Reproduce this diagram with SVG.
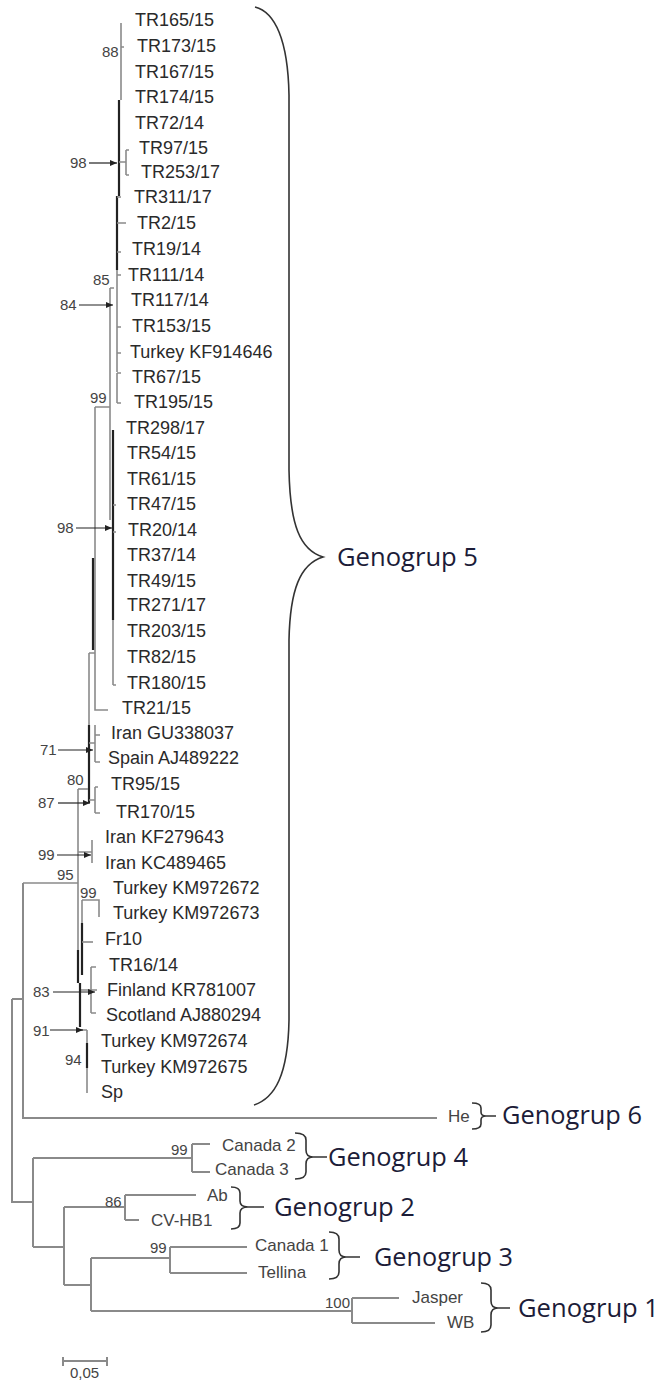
<svg xmlns="http://www.w3.org/2000/svg" width="662" height="1385" viewBox="0 0 662 1385">
<style>
.bg{fill:#fff}
.lab{font-family:"Liberation Sans",Arial,sans-serif;font-size:18px;fill:#2a2a2a}
.lab2{font-family:"Liberation Sans",Arial,sans-serif;font-size:17px;fill:#444}
.bs{font-family:"Liberation Sans",Arial,sans-serif;font-size:15px;fill:#444}
.geno{font-family:"Open Sans","Liberation Sans",sans-serif;font-size:25px;fill:#1c1c38}
.g{stroke:#8a8a8a;stroke-width:1.6;fill:none}
.k{stroke:#222;stroke-width:2.2;fill:none}
.t{stroke:#8a8a8a;stroke-width:2;fill:none}
.br{stroke:#333;stroke-width:1.6;fill:none}
.ar{stroke:#222;stroke-width:1.2;fill:none;marker-end:url(#ah)}
</style>
<defs>
<marker id="ah" markerWidth="8" markerHeight="8" refX="7" refY="4" orient="auto" markerUnits="userSpaceOnUse">
<path d="M0,1 L7,4 L0,7 Z" fill="#222"/>
</marker>
</defs>
<rect class="bg" x="0" y="0" width="662" height="1385"/>

<g id="connectors">
  <!-- Genogroup 5 subtree -->
  <path class="g" d="M121,23 V100 M121,47 H124"/>
  <path class="k" d="M119,100 V196"/>
  <path class="g" d="M119,162 H126 M126,150 V175 M126,150 H129 M126,175 H129"/>
  <path class="k" d="M117,196 V270"/>
  <path class="g" d="M117,197 H121 M117,223 H126 M117,252 H121"/>
  <path class="g" d="M117,270 V372 M117,275 H121 M117,327 H121 M117,353 H121"/>
  <path class="g" d="M110,288 H114 M110,288 V520"/>
  <path class="g" d="M117,373 V403 M117,373 H121 M117,403 H121"/>
  <path class="g" d="M95,407 H110 M95,407 V653"/>
  <path class="k" d="M113,430 V620"/>
  <path class="g" d="M113,620 V685 M113,505 H116 M113,532 H116 M113,685 H116"/>
  <path class="k" d="M93,558 V650"/>
  <path class="g" d="M89,653 H95 M95,653 V710 H108"/>
  <path class="g" d="M89,653 V725"/>
  <path class="k" d="M89,725 V803"/>
  <path class="g" d="M89,743 H95 M95,725 V762 M95,735 H100 M95,762 H100"/>
  <path class="g" d="M78,789 H88"/>
  <path class="g" d="M89,800 H95 M95,787 V813 M95,787 H98 M95,813 H100"/>
  <path class="g" d="M78,789 V950"/>
  <path class="g" d="M78,852 H92 M92,840 V863"/>
  <path class="g" d="M23,883 H78"/>
  <path class="g" d="M82,900 H99 V917 M82,900 V923"/>
  <path class="k" d="M82,923 V975"/>
  <path class="g" d="M82,942 H93"/>
  <path class="k" d="M78,950 V983"/>
  <path class="g" d="M80,990 H91 M91,967 V1013 M91,967 H96 M91,1013 H96 M91,990 H97"/>
  <path class="k" d="M80,983 V1027"/>
  <path class="g" d="M80,1030 H87 M87,1030 V1093"/>
  <path class="k" d="M87,1043 V1068"/>
  <!-- arrows to nodes -->
  <path class="ar" d="M89,163 H117"/>
  <path class="ar" d="M79,305 H113"/>
  <path class="ar" d="M76,528 H112"/>
  <path class="ar" d="M58,750 H93"/>
  <path class="ar" d="M58,803 H90"/>
  <path class="ar" d="M57,855 H91"/>
  <path class="ar" d="M53,992 H95"/>
  <path class="ar" d="M50,1030 H83"/>
  <!-- root and outgroups -->
  <path class="t" d="M23,883 V1118 H437"/>
  <path class="t" d="M12,999 H23 M12,999 V1202 H33"/>
  <path class="t" d="M33,1158 V1247 M33,1158 H192 M192,1144 V1172 M192,1144 H210 M192,1172 H210"/>
  <path class="t" d="M33,1247 H64 M64,1207 V1285 M64,1207 H125 M125,1195 V1220 M125,1195 H196 M125,1220 H139"/>
  <path class="t" d="M64,1285 H91 M91,1258 V1311 M91,1258 H170 M170,1247 V1273 M170,1247 H247 M170,1273 H247"/>
  <path class="t" d="M91,1311 H352 M352,1298 V1323 M352,1298 H399 M352,1323 H435"/>
  <!-- scale bar -->
  <path class="t" d="M63,1361 H107 M63,1357 V1366 M107,1357 V1366"/>
</g>

<g id="braces">
  <path class="br" d="M255,7 C275,12 288,40 289,95 L289,470 C290,525 300,550 323,557 C300,564 290,590 289,640 L289,1020 C288,1075 275,1098 254,1105"/>
  <path class="br" d="M472,1103 Q481,1103 481,1108 V1112 Q481,1116 486,1116 Q481,1116 481,1120 V1124 Q481,1129 472,1129 M486,1116 H496"/>
  <path class="br" d="M295,1133 Q306,1133 306,1140 V1150 Q306,1157 313,1157 Q306,1157 306,1164 V1172 Q306,1179 295,1179 M313,1157 H327"/>
  <path class="br" d="M231,1187 Q240,1187 240,1193 V1201 Q240,1207 248,1207 Q240,1207 240,1213 V1223 Q240,1229 231,1229 M248,1207 H264"/>
  <path class="br" d="M329,1232 Q339,1232 339,1239 V1250 Q339,1257 346,1257 Q339,1257 339,1264 V1272 Q339,1279 329,1279 M346,1257 H360"/>
  <path class="br" d="M481,1283 Q491,1283 491,1290 V1301 Q491,1308 498,1308 Q491,1308 491,1315 V1325 Q491,1332 481,1332 M498,1308 H510"/>
</g>

<g id="bootstrap">
  <text class="bs" x="102" y="57">88</text>
  <text class="bs" x="70" y="168">98</text>
  <text class="bs" x="93" y="285">85</text>
  <text class="bs" x="60" y="310">84</text>
  <text class="bs" x="90" y="403">99</text>
  <text class="bs" x="57" y="533">98</text>
  <text class="bs" x="40" y="755">71</text>
  <text class="bs" x="67" y="785">80</text>
  <text class="bs" x="38" y="808">87</text>
  <text class="bs" x="38" y="860">99</text>
  <text class="bs" x="57" y="880">95</text>
  <text class="bs" x="80" y="898">99</text>
  <text class="bs" x="33" y="997">83</text>
  <text class="bs" x="33" y="1036">91</text>
  <text class="bs" x="65" y="1065">94</text>
  <text class="bs" x="171" y="1155">99</text>
  <text class="bs" x="105" y="1207">86</text>
  <text class="bs" x="150" y="1253">99</text>
  <text class="bs" x="325" y="1308">100</text>
  <text class="bs" x="70" y="1378">0,05</text>
</g>

<g id="genogroup5-leaves">
  <text class="lab" x="135" y="26">TR165/15</text>
  <text class="lab" x="137" y="52">TR173/15</text>
  <text class="lab" x="135" y="78">TR167/15</text>
  <text class="lab" x="135" y="103">TR174/15</text>
  <text class="lab" x="135" y="129">TR72/14</text>
  <text class="lab" x="139" y="154">TR97/15</text>
  <text class="lab" x="141" y="178">TR253/17</text>
  <text class="lab" x="134" y="203">TR311/17</text>
  <text class="lab" x="137" y="229">TR2/15</text>
  <text class="lab" x="132" y="255">TR19/14</text>
  <text class="lab" x="128" y="281">TR111/14</text>
  <text class="lab" x="131" y="306">TR117/14</text>
  <text class="lab" x="132" y="332">TR153/15</text>
  <text class="lab" x="130" y="358">Turkey KF914646</text>
  <text class="lab" x="132" y="383">TR67/15</text>
  <text class="lab" x="134" y="408">TR195/15</text>
  <text class="lab" x="126" y="434">TR298/17</text>
  <text class="lab" x="127" y="459">TR54/15</text>
  <text class="lab" x="127" y="485">TR61/15</text>
  <text class="lab" x="127" y="510">TR47/15</text>
  <text class="lab" x="128" y="536">TR20/14</text>
  <text class="lab" x="127" y="561">TR37/14</text>
  <text class="lab" x="127" y="587">TR49/15</text>
  <text class="lab" x="127" y="611">TR271/17</text>
  <text class="lab" x="127" y="637">TR203/15</text>
  <text class="lab" x="127" y="663">TR82/15</text>
  <text class="lab" x="127" y="689">TR180/15</text>
  <text class="lab" x="122" y="714">TR21/15</text>
  <text class="lab" x="111" y="739">Iran GU338037</text>
  <text class="lab" x="108" y="764">Spain AJ489222</text>
  <text class="lab" x="111" y="790">TR95/15</text>
  <text class="lab" x="116" y="818">TR170/15</text>
  <text class="lab" x="105" y="843">Iran KF279643</text>
  <text class="lab" x="105" y="869">Iran KC489465</text>
  <text class="lab" x="113" y="894">Turkey KM972672</text>
  <text class="lab" x="113" y="919">Turkey KM972673</text>
  <text class="lab" x="105" y="945">Fr10</text>
  <text class="lab" x="109" y="971">TR16/14</text>
  <text class="lab" x="107" y="996">Finland KR781007</text>
  <text class="lab" x="106" y="1021">Scotland AJ880294</text>
  <text class="lab" x="101" y="1047">Turkey KM972674</text>
  <text class="lab" x="101" y="1073">Turkey KM972675</text>
  <text class="lab" x="101" y="1098">Sp</text>
</g>

<g id="other-leaves">
  <text class="lab2" x="448" y="1122">He</text>
  <text class="lab2" x="222" y="1151">Canada 2</text>
  <text class="lab2" x="215" y="1175">Canada 3</text>
  <text class="lab2" x="207" y="1201">Ab</text>
  <text class="lab2" x="151" y="1226">CV-HB1</text>
  <text class="lab2" x="255" y="1251">Canada 1</text>
  <text class="lab2" x="258" y="1278">Tellina</text>
  <text class="lab2" x="412" y="1303">Jasper</text>
  <text class="lab2" x="447" y="1328">WB</text>
</g>

<g id="genogroups">
  <text id="genogrup5" class="geno" x="337" y="566" textLength="141" lengthAdjust="spacingAndGlyphs">Genogrup 5</text>
  <text id="genogrup6" class="geno" x="502" y="1124" textLength="140" lengthAdjust="spacingAndGlyphs">Genogrup 6</text>
  <text id="genogrup4" class="geno" x="328" y="1166" textLength="140" lengthAdjust="spacingAndGlyphs">Genogrup 4</text>
  <text id="genogrup2" class="geno" x="274" y="1216" textLength="141" lengthAdjust="spacingAndGlyphs">Genogrup 2</text>
  <text id="genogrup3" class="geno" x="374" y="1266" textLength="139" lengthAdjust="spacingAndGlyphs">Genogrup 3</text>
  <text id="genogrup1" class="geno" x="518" y="1317" textLength="141" lengthAdjust="spacingAndGlyphs">Genogrup 1</text>
</g>
</svg>
